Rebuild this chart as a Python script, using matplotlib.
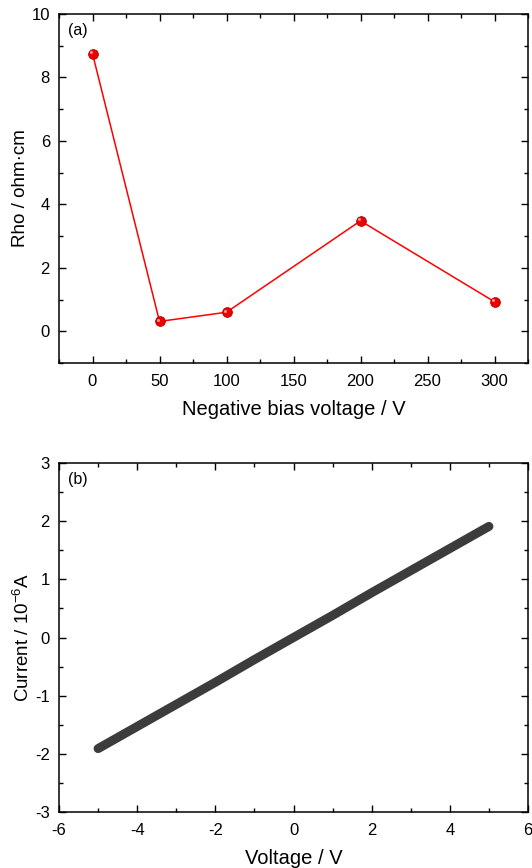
import matplotlib
matplotlib.use('Agg')
import matplotlib.pyplot as plt
from matplotlib.ticker import MultipleLocator
from matplotlib.transforms import ScaledTranslation

plt.rcParams['font.family'] = ['Liberation Sans', 'DejaVu Sans']
plt.rcParams['mathtext.fontset'] = 'custom'
plt.rcParams['mathtext.rm'] = 'Liberation Sans'
plt.rcParams['mathtext.it'] = 'Liberation Sans'
plt.rcParams['axes.unicode_minus'] = False

# (a) resistivity vs negative bias voltage
bias_v = [0, 50, 100, 200, 300]
rho = [8.75, 0.31, 0.60, 3.48, 0.93]

# (b) I-V curve, current in 1e-6 A
iv_volt = [-5, -4, -3, -2, -1, 0, 1, 2, 3, 4, 5]
iv_curr = [-1.91, -1.53, -1.15, -0.77, -0.38, 0.0, 0.38, 0.77, 1.15, 1.53, 1.91]


def style_axes(ax, xmaj, xmin, ymaj, ymin):
	ax.xaxis.set_major_locator(MultipleLocator(xmaj))
	ax.xaxis.set_minor_locator(MultipleLocator(xmin))
	ax.yaxis.set_major_locator(MultipleLocator(ymaj))
	ax.yaxis.set_minor_locator(MultipleLocator(ymin))
	ax.tick_params(which='both', direction='in', top=True, right=True, labelsize=12, width=1)
	ax.tick_params(which='major', length=5)
	ax.tick_params(which='minor', length=3)
	ax.tick_params(axis='x', which='major', pad=8)
	ax.tick_params(axis='y', which='major', pad=6.5)
	for s in ax.spines.values():
		s.set_linewidth(1.1)


fig = plt.figure(figsize=(5.32, 8.68), dpi=100)
ax1 = fig.add_axes([59/532, 1 - 363/868, 469/532, 349/868])
ax2 = fig.add_axes([59/532, 1 - 812/868, 469/532, 349/868])

ax1.plot(bias_v, rho, '-', color='#ff0000', lw=1.1, zorder=2)
ax1.plot(bias_v, rho, 'o', color='#ee0000', mec='#b00000', mew=0.6, ms=7, zorder=3)
hl = ax1.transData + ScaledTranslation(-1.2/72, 1.2/72, fig.dpi_scale_trans)
ax1.plot(bias_v, rho, 'o', color='#ff9090', mec='none', ms=2.2, transform=hl, zorder=4)
ax1.set_xlim(-25, 325)
ax1.set_ylim(-1, 10)
style_axes(ax1, 50, 25, 2, 1)
ax1.set_xlabel('Negative bias voltage / V', fontsize=14.5, labelpad=8)
ax1.set_ylabel('Rho / ohm·cm', fontsize=13.5, labelpad=1.5)
ax1.text(0.02, 0.975, '(a)', transform=ax1.transAxes, fontsize=11.5, va='top', ha='left')

ax2.plot(iv_volt, iv_curr, '-', color='#3c3c3c', lw=6.5, solid_capstyle='round')
ax2.set_xlim(-6, 6)
ax2.set_ylim(-3, 3)
style_axes(ax2, 2, 1, 1, 0.5)
ax2.set_xlabel('Voltage / V', fontsize=14.5, labelpad=8)
ax2.set_ylabel('Current / 10$^{-6}$A', fontsize=13.5, labelpad=1.5)
ax2.text(0.02, 0.975, '(b)', transform=ax2.transAxes, fontsize=11.5, va='top', ha='left')

fig.savefig('out.png', dpi=100)
